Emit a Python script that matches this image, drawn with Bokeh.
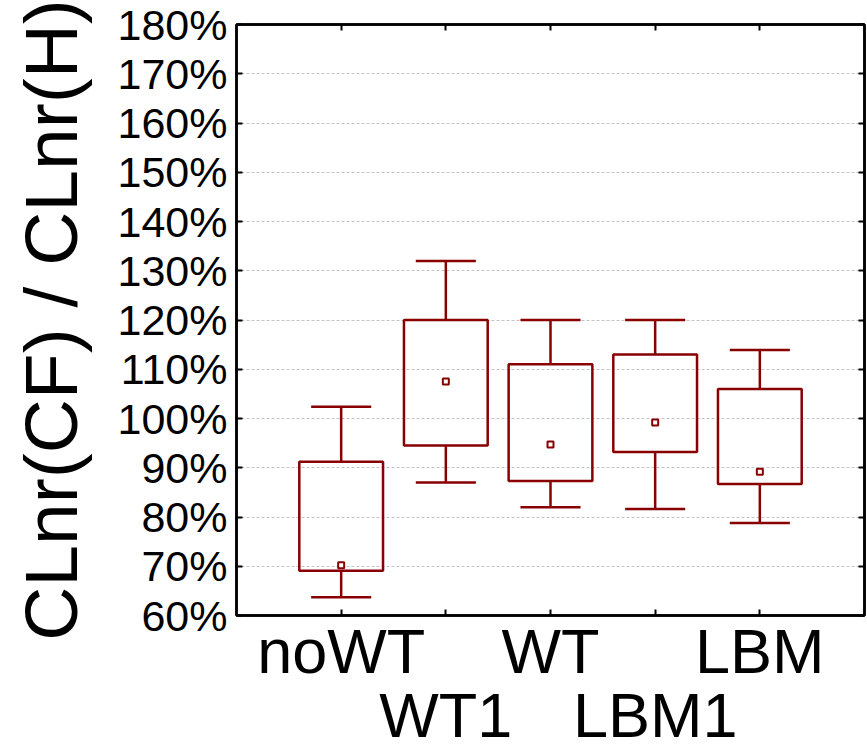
from bokeh.plotting import figure
from bokeh.models import (ColumnDataSource, LinearAxis, FixedTicker, Grid,
                          PrintfTickFormatter, CustomJSTickFormatter)
from bokeh.embed import file_html
from bokeh.resources import INLINE

# Box plot summary per group (percent)
groups = ["noWT", "WT1", "WT", "LBM1", "LBM"]
whisker_low = [63.7, 87.0, 82.0, 81.6, 78.8]
box_low = [69.1, 94.5, 87.3, 93.2, 86.7]
means = [70.2, 107.5, 94.7, 99.2, 89.2]
box_high = [91.2, 120.0, 111.0, 113.0, 106.0]
whisker_high = [102.4, 132.0, 120.0, 120.0, 113.9]
y_ticks = list(range(60, 181, 10))

FONT = "Liberation Sans"
RED = "#880000"
BOX_HALF = 0.4
CAP_HALF = 0.287

pos = [i + 1 for i in range(len(groups))]

src = ColumnDataSource(dict(
    x=pos,
    left=[p - BOX_HALF for p in pos],
    right=[p + BOX_HALF for p in pos],
    cap_l=[p - CAP_HALF for p in pos],
    cap_r=[p + CAP_HALF for p in pos],
    wlo=whisker_low, qlo=box_low, mean=means, qhi=box_high, whi=whisker_high,
))

p = figure(width=867, height=754, x_range=(0, len(groups) + 1),
           y_range=(y_ticks[0], y_ticks[-1]),
           x_axis_type=None, y_axis_type=None,
           output_backend="svg", toolbar_location=None,
           min_border_left=236, min_border_right=3,
           min_border_top=24, min_border_bottom=139)
p.outline_line_color = "black"
p.outline_line_width = 2.5
p.background_fill_color = "white"
p.border_fill_color = "white"

yt = FixedTicker(ticks=y_ticks, minor_ticks=[])
xt = FixedTicker(ticks=pos, minor_ticks=[])
blank = CustomJSTickFormatter(code="return ''")

p.add_layout(Grid(dimension=1, ticker=yt, grid_line_color="#c4c4c4",
                  grid_line_width=1, grid_line_dash="3 2"))


def style_axis(ax):
    ax.axis_line_color = "black"
    ax.axis_line_width = 2.5
    ax.major_tick_line_color = "black"
    ax.major_tick_line_width = 2
    ax.major_tick_in = 6
    ax.major_tick_out = 0
    ax.minor_tick_line_color = None
    ax.major_label_text_font = FONT
    ax.major_label_text_color = "black"


# left axis with percentages and title
left = LinearAxis(ticker=yt, formatter=PrintfTickFormatter(format="%d%%"),
                  axis_label="CLnr(CF) / CLnr(H)")
style_axis(left)
left.major_label_text_font_size = "43px"
left.major_label_standoff = 9
left.axis_label_text_font = FONT
left.axis_label_text_font_size = "75px"
left.axis_label_text_font_style = "normal"
left.axis_label_text_color = "black"
left.axis_label_standoff = 22
p.add_layout(left, "left")

# mirrored right axis, ticks only
right = LinearAxis(ticker=yt, formatter=blank)
style_axis(right)
right.major_label_standoff = 0
p.add_layout(right, "right")

# bottom axis: group names staggered over two rows
bottom = LinearAxis(ticker=xt, major_label_overrides={
    pos[i]: (groups[i] if i % 2 == 0 else "\n" + groups[i])
    for i in range(len(groups))})
style_axis(bottom)
bottom.major_label_text_font_size = "63px"
bottom.major_label_text_line_height = 0.92
bottom.major_label_standoff = 0
p.add_layout(bottom, "below")

# mirrored top axis, ticks only
top = LinearAxis(ticker=xt, formatter=blank)
style_axis(top)
top.major_label_standoff = 0
p.add_layout(top, "above")

# whiskers
p.segment(x0="x", y0="qhi", x1="x", y1="whi", source=src, line_color=RED, line_width=2.5)
p.segment(x0="x", y0="wlo", x1="x", y1="qlo", source=src, line_color=RED, line_width=2.5)
p.segment(x0="cap_l", y0="whi", x1="cap_r", y1="whi", source=src, line_color=RED, line_width=2.5)
p.segment(x0="cap_l", y0="wlo", x1="cap_r", y1="wlo", source=src, line_color=RED, line_width=2.5)
# boxes
p.quad(left="left", right="right", bottom="qlo", top="qhi", source=src,
       fill_color=None, line_color=RED, line_width=2.5)
# means
p.scatter(x="x", y="mean", source=src, marker="square", size=6,
          fill_color="white", line_color=RED, line_width=2)

open("out.html", "w").write(file_html(p, INLINE))
